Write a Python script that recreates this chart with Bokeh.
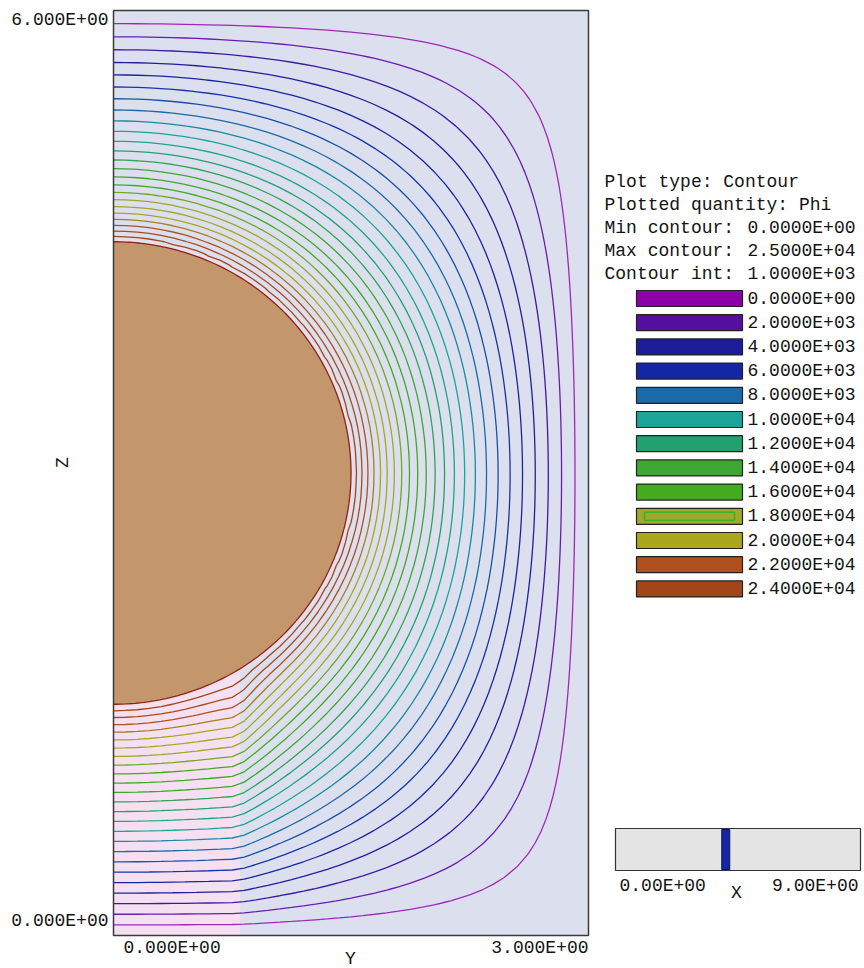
import numpy as np
from bokeh.plotting import figure
from bokeh.models import Range1d
from bokeh.embed import file_html
from bokeh.resources import INLINE
from bokeh.core.properties import value

# ---------------- values ----------------
y_extent = [0.0, 3.0]            # horizontal axis (Y)
z_extent = [0.0, 6.0]            # vertical axis (Z)
x_slider_range = [0.0, 9.0]      # X slider
x_slice = 4.05                   # slider position
sphere_center_z = 3.0
sphere_radius = 1.5
sphere_potential = 25000.0
post_radius = 0.8                # dielectric support (pink region)
post_eps = 8.0
half_length_x = 4.5              # distance from sphere centre to X walls

levels = [1000, 2000, 3000, 4000, 5000, 6000, 7000, 8000, 9000, 10000,
          11000, 12000, 13000, 14000, 15000, 16000, 17000, 18000, 19000,
          20000, 21000, 22000, 23000, 24000]
line_colors = ['#a028b8', '#6a1cb0', '#3c1aa4', '#221e9c', '#1a24a2', '#1634aa',
               '#1850aa', '#1a6aaa', '#1a88a2', '#1aa598', '#1ea488', '#22a070',
               '#30a452', '#3ca832', '#40a928', '#44aa1e', '#72a823', '#a0a828',
               '#a5a723', '#aaa61e', '#ad7b1e', '#b0501e', '#a94b1c', '#a2461a']

legend_labels = ["0.0000E+00", "2.0000E+03", "4.0000E+03", "6.0000E+03",
                 "8.0000E+03", "1.0000E+04", "1.2000E+04", "1.4000E+04",
                 "1.6000E+04", "1.8000E+04", "2.0000E+04", "2.2000E+04",
                 "2.4000E+04"]
legend_colors = ['#8c00a8', '#5510a0', '#1c1c98', '#1426a4', '#1a6aaa', '#1aa598',
                 '#22a070', '#3ca832', '#44aa1e', '#a0a828', '#aaa61e', '#b0501e',
                 '#a2461a']
info_names = ["Plot type: Contour", "Plotted quantity: Phi",
              "Min contour:", "Max contour:", "Contour int:"]
info_values = ["0.0000E+00", "2.5000E+04", "1.0000E+03"]
y_tick_labels = ["0.000E+00", "6.000E+00"]
x_tick_labels = ["0.000E+00", "3.000E+00"]
slider_labels = ["0.00E+00", "9.00E+00"]

# ---------------- field solve (Laplace, 3D, SOR) ----------------
h = 0.075
nx = int(round(half_length_x / h))
ny = int(round(y_extent[1] / h))
nz = int(round(z_extent[1] / h))
Xc = np.arange(nx + 2) * h
Yc = (np.arange(ny + 2) - 1) * h
Zc = np.arange(nz + 1) * h
XX, YY, ZZ = np.meshgrid(Xc, Yc, Zc, indexing='ij')
DX = XX - half_length_x
DZ = ZZ - sphere_center_z
R2 = sphere_radius ** 2
inside = DX ** 2 + YY ** 2 + DZ ** 2 <= R2
eps = np.where((DX ** 2 + YY ** 2 <= post_radius ** 2) & (ZZ <= sphere_center_z), post_eps, 1.0)
P = np.zeros(XX.shape)
P[inside] = sphere_potential

I = slice(1, nx + 1); J = slice(1, ny + 1); K = slice(1, nz)
C = (I, J, K)
nbs = {
    'x': ((slice(0, nx), J, K), (slice(2, nx + 2), J, K)),
    'y': ((I, slice(0, ny), K), (I, slice(2, ny + 2), K)),
    'z': ((I, J, slice(0, nz - 1)), (I, J, slice(2, nz + 1))),
}
free = ~inside[C]
def hm(a, b):
    return 2 * a * b / (a + b)
coefs = []
Wsum = np.zeros(free.shape)
for ax in ('x', 'y', 'z'):
    if ax == 'x':
        along, other = np.abs(DX[C]), YY[C] ** 2 + DZ[C] ** 2
    elif ax == 'y':
        along, other = np.abs(YY[C]), DX[C] ** 2 + DZ[C] ** 2
    else:
        along, other = np.abs(DZ[C]), DX[C] ** 2 + YY[C] ** 2
    d = np.sqrt(np.maximum(R2 - other, 0.0))
    th = np.clip((along - d) / h, 0.05, 1.0)
    sm, sp = nbs[ax]
    a = np.where(inside[sm] & free, th, 1.0)
    b = np.where(inside[sp] & free, th, 1.0)
    wm = 2.0 / (a * (a + b)) * hm(eps[C], eps[sm])
    wp = 2.0 / (b * (a + b)) * hm(eps[C], eps[sp])
    coefs.append((sm, wm)); coefs.append((sp, wp))
    Wsum += wm + wp
coefs = [(s, w / Wsum) for s, w in coefs]
II, JJ, KK = np.meshgrid(np.arange(nx), np.arange(ny), np.arange(nz - 1), indexing='ij')
parity = (II + JJ + KK) % 2
masks = [((parity == 0) & free).astype(float), ((parity == 1) & free).astype(float)]
omega = 1.92
for it in range(450):
    for m in masks:
        P[nx + 1] = P[nx - 1]
        P[:, 0] = P[:, 2]
        new = coefs[0][1] * P[coefs[0][0]]
        for s, w in coefs[1:]:
            new += w * P[s]
        Pc = P[C]
        Pc += omega * m * (new - Pc)

field = P[nx, 1:ny + 2, :].T          # rows: Z, cols: Y
ygrid = Yc[1:]
zgrid = Zc

# ---------------- figure (frame covers the whole canvas) ----------------
W, H = 864, 968
fl, fr, ft, fb = 113, 588, 10, 935     # plot box in pixels
sx = (fr - fl) / (y_extent[1] - y_extent[0])
sy = (fb - ft) / (z_extent[1] - z_extent[0])
x0 = y_extent[0] - fl / sx
x1 = y_extent[1] + (W - fr) / sx
y1 = z_extent[1] + ft / sy
y0 = z_extent[0] - (H - fb) / sy

def px(xi):   # pixel -> data x
    return x0 + xi / sx
def py(yi):   # pixel -> data y
    return y1 - yi / sy

p = figure(width=W, height=H, x_range=Range1d(x0, x1), y_range=Range1d(y0, y1),
           output_backend="svg", toolbar_location=None, min_border=0)
p.axis.visible = False
p.grid.visible = False
p.outline_line_color = None
p.background_fill_color = "white"

FONT = value("Liberation Mono")
FS = "18px"
TC = "#141414"

def txt(xs, ys, texts, align="left", angle=0.0):
    p.text(x=[px(v) for v in xs], y=[py(v) for v in ys], text=texts, text_font=FONT,
           text_font_size=FS, text_align=align, text_baseline="middle", text_color=TC,
           angle=angle)

# plot background and dielectric post
p.quad(left=[y_extent[0]], right=[y_extent[1]], bottom=[z_extent[0]], top=[z_extent[1]],
       fill_color="#dce0ee", line_color=None)
p.quad(left=[0.0], right=[post_radius], bottom=[z_extent[0]], top=[sphere_center_z],
       fill_color="#f4e0f0", line_color=None)

# contours
p.contour(x=ygrid, y=zgrid, z=field, levels=levels, line_color=line_colors, line_width=1.3)

# sphere
t = np.linspace(-np.pi / 2, np.pi / 2, 241)
sy_pts = sphere_radius * np.cos(t)
sz_pts = sphere_center_z + sphere_radius * np.sin(t)
p.line(sy_pts, sz_pts, line_color="#f2dcea", line_width=5)
p.patch(np.concatenate([sy_pts, [0.0]]), np.concatenate([sz_pts, [sz_pts[-1]]]),
        fill_color="#c4966c", line_color=None)
p.line(sy_pts, sz_pts, line_color="#8a2416", line_width=1.3)

# plot border
p.quad(left=[y_extent[0]], right=[y_extent[1]], bottom=[z_extent[0]], top=[z_extent[1]],
       fill_color=None, line_color="#3a3a3a", line_width=1.5)

# axis labels
txt([108, 108], [19, 920], [y_tick_labels[1], y_tick_labels[0]], align="right")
txt([123], [947], [x_tick_labels[0]])
txt([588], [947], [x_tick_labels[1]], align="right")
txt([350], [958], ["Y"], align="center")
txt([62], [462], ["Z"], align="center", angle=np.pi / 2)

# info text
info_y = [181, 204, 227, 250, 273]
txt([604] * len(info_names), info_y, info_names)
txt([747] * len(info_values), info_y[2:], info_values)

# legend swatches
row_y = [298 + 24.2 * i for i in range(len(legend_labels))]
p.quad(left=[px(636)] * len(row_y), right=[px(742)] * len(row_y),
       top=[py(v - 8) for v in row_y], bottom=[py(v + 8) for v in row_y],
       fill_color=legend_colors, line_color="#222222", line_width=1.2)
r18 = row_y[9]
p.quad(left=[px(644)], right=[px(734)], top=[py(r18 - 4)], bottom=[py(r18 + 4)],
       fill_color=None, line_color="#3cb030", line_width=1.6)
txt([747] * len(row_y), row_y, legend_labels)

# X slider
sl, sr, st, sb = 615, 860, 828, 870
p.quad(left=[px(sl)], right=[px(sr)], top=[py(st)], bottom=[py(sb)],
       fill_color="#e4e4e4", line_color="#333333", line_width=1.2)
bar_c = sl + (x_slice - x_slider_range[0]) / (x_slider_range[1] - x_slider_range[0]) * (sr - sl)
p.quad(left=[px(bar_c - 4)], right=[px(bar_c + 4)], top=[py(st + 1)], bottom=[py(sb - 1)],
       fill_color="#1428a0", line_color="#0c1060", line_width=1)
txt([619], [885], [slider_labels[0]])
txt([858], [885], [slider_labels[1]], align="right")
txt([736], [892], ["X"], align="center")

open("out.html", "w").write(file_html(p, INLINE))
